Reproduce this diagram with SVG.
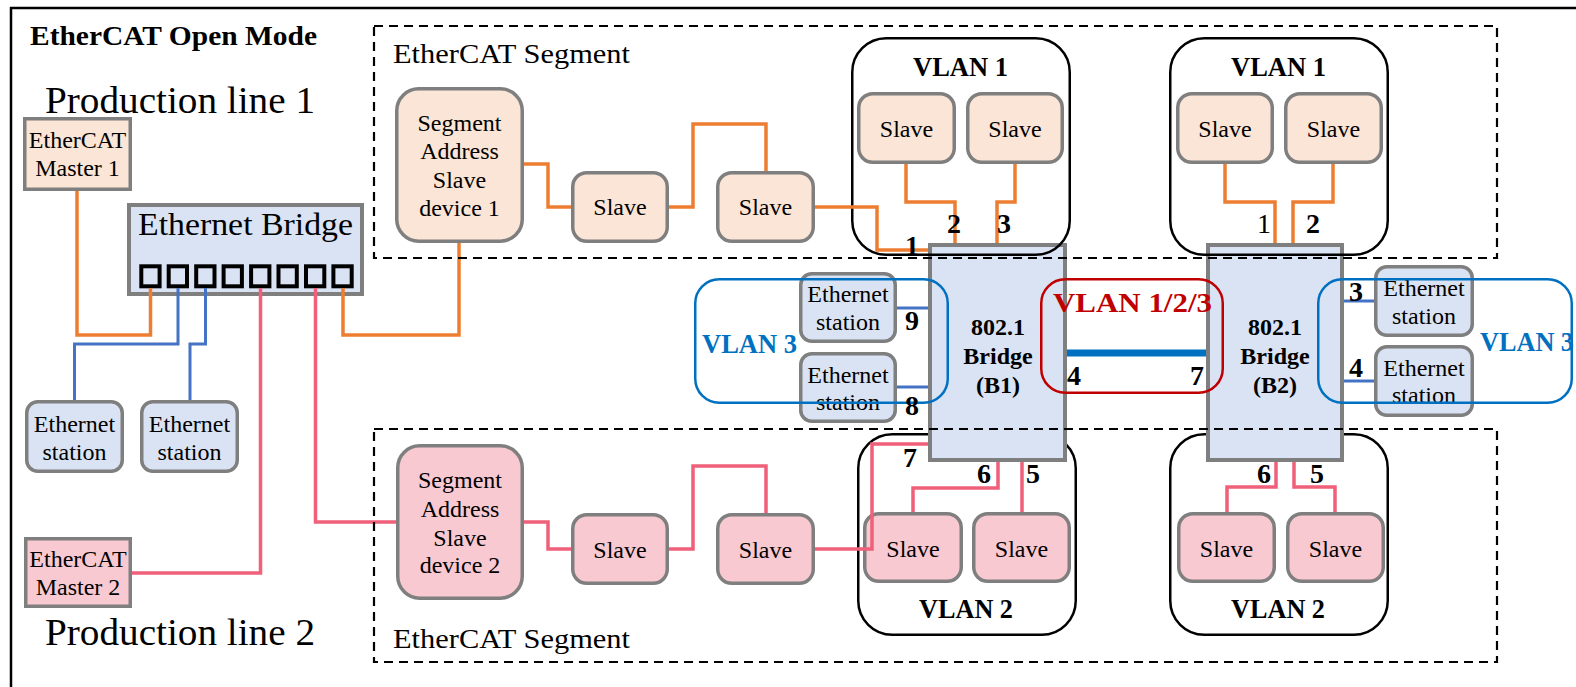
<svg xmlns="http://www.w3.org/2000/svg" width="1576" height="687" viewBox="0 0 1576 687">
<style>
text{font-family:"Liberation Serif","Times New Roman",serif;fill:#000}
.n{stroke:#7f7f7f;stroke-width:3.5}
.pe{fill:#fbe5d6}.pk{fill:#f9c9d2}.bl{fill:#dae3f3}
.br{fill:#dae3f3;stroke:#7f7f7f;stroke-width:4}
.port{fill:none;stroke:#000;stroke-width:4}
.c{text-anchor:middle;font-size:24px}
.cb{text-anchor:middle;font-size:24px;font-weight:bold}
.num{font-size:28px;font-weight:bold}
.vl{font-size:27px;font-weight:bold}
.vbox{fill:none;stroke:#000;stroke-width:2.5}
.seg{fill:none;stroke:#000;stroke-width:2.2;stroke-dasharray:9 6}
.or{fill:none;stroke:#ed7d31;stroke-width:3.5}
.bu{fill:none;stroke:#4472c4;stroke-width:3}
.pi{fill:none;stroke:#f0607a;stroke-width:3.5}
</style>
<rect x="11" y="8" width="1600" height="700" fill="#fff" stroke="#000" stroke-width="2.5"/>
<text x="30" y="45" font-size="28" font-weight="bold" textLength="287" lengthAdjust="spacingAndGlyphs">EtherCAT Open Mode</text>
<text x="45" y="113" font-size="37" textLength="270" lengthAdjust="spacingAndGlyphs">Production line 1</text>
<text x="45" y="645" font-size="37" textLength="270" lengthAdjust="spacingAndGlyphs">Production line 2</text>

<g id="vlan2-b1"><rect class="vbox" x="858.25" y="434.25" width="217.5" height="200.5" rx="34"/></g>
<g id="vlan2-b2"><rect class="vbox" x="1170.25" y="434.25" width="217.5" height="200.5" rx="34"/></g>

<g id="master1"><rect class="n pe" x="24.75" y="118.75" width="105.5" height="70.5"/><text class="c" x="77.5" y="148">EtherCAT</text><text class="c" x="77.5" y="176">Master 1</text></g>
<g id="master2"><rect class="n pk" x="25.75" y="538.75" width="104.5" height="67.5"/><text class="c" x="78" y="567">EtherCAT</text><text class="c" x="78" y="595">Master 2</text></g>
<g id="eth-l1"><rect class="n bl" x="26.75" y="401.75" width="95.5" height="69.5" rx="11"/><text class="c" x="74.5" y="432">Ethernet</text><text class="c" x="74.5" y="460">station</text></g>
<g id="eth-l2"><rect class="n bl" x="141.75" y="401.75" width="95.5" height="69.5" rx="11"/><text class="c" x="189.5" y="432">Ethernet</text><text class="c" x="189.5" y="460">station</text></g>
<g id="ethernet-bridge"><rect class="br" x="129" y="205" width="233" height="89"/><text x="138" y="235" font-size="32" textLength="215" lengthAdjust="spacingAndGlyphs">Ethernet Bridge</text>
<rect class="port" x="141.3" y="266.3" width="18.3" height="20"/><rect class="port" x="168.7" y="266.3" width="18.3" height="20"/><rect class="port" x="196.2" y="266.3" width="18.3" height="20"/><rect class="port" x="223.6" y="266.3" width="18.3" height="20"/><rect class="port" x="251.1" y="266.3" width="18.3" height="20"/><rect class="port" x="278.5" y="266.3" width="18.3" height="20"/><rect class="port" x="306" y="266.3" width="18.3" height="20"/><rect class="port" x="333.4" y="266.3" width="18.3" height="20"/></g>

<g id="seg-dev1"><rect class="n pe" x="396.75" y="88.75" width="125.5" height="152.5" rx="22"/><text class="c" x="459.5" y="131">Segment</text><text class="c" x="459.5" y="159">Address</text><text class="c" x="459.5" y="188">Slave</text><text class="c" x="459.5" y="216">device 1</text></g>
<g id="slave-1a"><rect class="n pe" x="572.75" y="172.75" width="94.5" height="68.5" rx="14"/><text class="c" x="620" y="215">Slave</text></g>
<g id="slave-1b"><rect class="n pe" x="717.75" y="172.75" width="95.5" height="68.5" rx="14"/><text class="c" x="765.5" y="215">Slave</text></g>
<g id="slave-v1a"><rect class="n pe" x="858.75" y="93.75" width="95.5" height="68.5" rx="14"/><text class="c" x="906.5" y="137">Slave</text></g>
<g id="slave-v1b"><rect class="n pe" x="967.75" y="93.75" width="94.5" height="68.5" rx="14"/><text class="c" x="1015" y="137">Slave</text></g>
<g id="slave-v1c"><rect class="n pe" x="1177.75" y="93.75" width="94.5" height="68.5" rx="14"/><text class="c" x="1225" y="137">Slave</text></g>
<g id="slave-v1d"><rect class="n pe" x="1285.75" y="93.75" width="95.5" height="68.5" rx="14"/><text class="c" x="1333.5" y="137">Slave</text></g>

<g id="seg-dev2"><rect class="n pk" x="397.75" y="445.75" width="124.5" height="152.5" rx="22"/><text class="c" x="460" y="488">Segment</text><text class="c" x="460" y="517">Address</text><text class="c" x="460" y="546">Slave</text><text class="c" x="460" y="573">device 2</text></g>
<g id="slave-2a"><rect class="n pk" x="572.75" y="514.75" width="94.5" height="68.5" rx="14"/><text class="c" x="620" y="558">Slave</text></g>
<g id="slave-2b"><rect class="n pk" x="717.75" y="514.75" width="95.5" height="68.5" rx="14"/><text class="c" x="765.5" y="558">Slave</text></g>
<g id="slave-v2a"><rect class="n pk" x="864.75" y="513.75" width="96.5" height="67.5" rx="14"/><text class="c" x="913" y="557">Slave</text></g>
<g id="slave-v2b"><rect class="n pk" x="973.75" y="513.75" width="95.5" height="67.5" rx="14"/><text class="c" x="1021.5" y="557">Slave</text></g>
<g id="slave-v2c"><rect class="n pk" x="1178.75" y="513.75" width="95.5" height="67.5" rx="14"/><text class="c" x="1226.5" y="557">Slave</text></g>
<g id="slave-v2d"><rect class="n pk" x="1287.75" y="513.75" width="95.5" height="67.5" rx="14"/><text class="c" x="1335.5" y="557">Slave</text></g>

<g id="bridge-b1"><rect class="br" x="930" y="245" width="135" height="215"/><text class="cb" x="998" y="335">802.1</text><text class="cb" x="998" y="364">Bridge</text><text class="cb" x="998" y="393">(B1)</text></g>
<g id="bridge-b2"><rect class="br" x="1208" y="245" width="134" height="215"/><text class="cb" x="1275" y="335">802.1</text><text class="cb" x="1275" y="364">Bridge</text><text class="cb" x="1275" y="393">(B2)</text></g>

<g id="eth-b1-top"><rect class="n bl" x="800.75" y="273.75" width="94.5" height="67.5" rx="11"/><text class="c" x="848" y="302">Ethernet</text><text class="c" x="848" y="330">station</text></g>
<g id="eth-b1-bot"><rect class="n bl" x="800.75" y="353.75" width="94.5" height="67.5" rx="11"/><text class="c" x="848" y="383">Ethernet</text><text class="c" x="848" y="410">station</text></g>
<g id="eth-b2-top"><rect class="n bl" x="1375.75" y="266.75" width="96.5" height="68.5" rx="11"/><text class="c" x="1424" y="296">Ethernet</text><text class="c" x="1424" y="324">station</text></g>
<g id="eth-b2-bot"><rect class="n bl" x="1375.75" y="346.75" width="96.5" height="68.5" rx="11"/><text class="c" x="1424" y="376">Ethernet</text><text class="c" x="1424" y="403">station</text></g>

<g id="vlan1-b1"><rect class="vbox" x="852.25" y="38.25" width="217.5" height="216.5" rx="34"/><text class="vl" x="913" y="76" textLength="95" lengthAdjust="spacingAndGlyphs">VLAN 1</text></g>
<g id="vlan1-b2"><rect class="vbox" x="1170.25" y="38.25" width="217.5" height="216.5" rx="34"/><text class="vl" x="1231" y="76" textLength="95" lengthAdjust="spacingAndGlyphs">VLAN 1</text></g>
<g id="vlan2-labels"><text class="vl" x="919" y="618" textLength="94" lengthAdjust="spacingAndGlyphs">VLAN 2</text><text class="vl" x="1231" y="618" textLength="94" lengthAdjust="spacingAndGlyphs">VLAN 2</text></g>
<g id="vlan3-left"><rect x="695.25" y="279.25" width="252.5" height="123.5" rx="24" fill="none" stroke="#0070c0" stroke-width="2.5"/><text class="vl" x="702" y="353" style="fill:#0070c0" textLength="95" lengthAdjust="spacingAndGlyphs">VLAN 3</text></g>
<g id="vlan3-right"><rect x="1318.25" y="279.25" width="253.5" height="123.5" rx="24" fill="none" stroke="#0070c0" stroke-width="2.5"/><text class="vl" x="1480" y="351" style="fill:#0070c0" textLength="94" lengthAdjust="spacingAndGlyphs">VLAN 3</text></g>
<g id="vlan123"><rect x="1041.25" y="279.25" width="181.5" height="113.5" rx="24" fill="none" stroke="#c00000" stroke-width="2.5"/><text x="1053" y="312" font-size="28" font-weight="bold" style="fill:#c00000" textLength="159" lengthAdjust="spacingAndGlyphs">VLAN 1/2/3</text></g>

<g id="connectors">
<path class="or" d="M77,191V335H150.5V288"/>
<path class="or" d="M343,288V335H459V243"/>
<path class="or" d="M524,164H548V207H571"/>
<path class="or" d="M669,207H693V124H766V171"/>
<path class="or" d="M815,207H877V250H928"/>
<path class="or" d="M906,164V202H955V243"/>
<path class="or" d="M1015,164V202H997V243"/>
<path class="or" d="M1225,164V202H1275V243"/>
<path class="or" d="M1333,164V202H1293V243"/>
<path class="bu" d="M178,288V344H74.5V400"/>
<path class="bu" d="M205.5,288V344H190V400"/>
<path class="bu" d="M897,308H928"/>
<path class="bu" d="M897,387H928"/>
<path class="bu" d="M1344,301H1374"/>
<path class="bu" d="M1344,381H1374"/>
<path d="M1067,353H1206" fill="none" stroke="#0070c0" stroke-width="7"/>
<path class="pi" d="M260.5,288V573H132"/>
<path class="pi" d="M315.5,288V522H396"/>
<path class="pi" d="M524,522H548V549H571"/>
<path class="pi" d="M669,549H693V466H766V513"/>
<path class="pi" d="M815,549H872V444H928"/>
<path class="pi" d="M998,462V488H913V512"/>
<path class="pi" d="M1022,462V512"/>
<path class="pi" d="M1276,462V487H1227V512"/>
<path class="pi" d="M1294,462V487H1335V512"/>
</g>

<g id="segment-top"><rect class="seg" x="374" y="26" width="1123" height="232"/><text x="393" y="63" font-size="28" textLength="237" lengthAdjust="spacingAndGlyphs">EtherCAT Segment</text></g>
<g id="segment-bottom"><rect class="seg" x="374" y="429" width="1123" height="233"/><text x="393" y="648" font-size="28" textLength="237" lengthAdjust="spacingAndGlyphs">EtherCAT Segment</text></g>

<g id="port-labels">
<text class="num" x="905" y="255">1</text><text class="num" x="947" y="233">2</text><text class="num" x="997" y="233">3</text>
<text class="num" x="905" y="330">9</text><text class="num" x="905" y="415">8</text>
<text class="num" x="1067" y="385">4</text><text class="num" x="1190" y="385">7</text>
<text class="num" x="903" y="467">7</text><text class="num" x="977" y="483">6</text><text class="num" x="1026" y="483">5</text>
<text x="1257" y="233" font-size="28">1</text><text class="num" x="1306" y="233">2</text>
<text class="num" x="1349" y="301">3</text><text class="num" x="1349" y="377">4</text>
<text class="num" x="1257" y="483">6</text><text class="num" x="1310" y="483">5</text>
</g>
</svg>
